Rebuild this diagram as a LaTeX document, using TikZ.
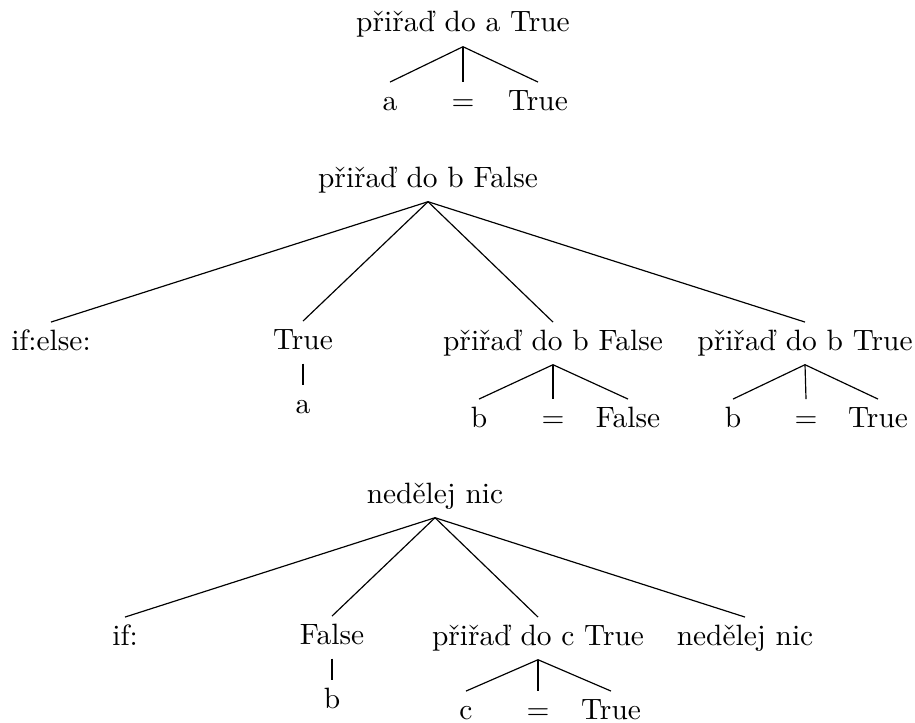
\documentclass[tikz,border=0pt]{standalone}
\usepackage{fontspec}
\begin{document}
\begin{tikzpicture}[x=0.34pt,y=-0.34pt,
  lbl/.style={inner sep=2.8pt, text height=6.5pt, text depth=2pt, anchor=base},
  edge/.style={line width=0.4pt}]
\useasboundingbox (0,0) rectangle (915,722);

% first tree
\node[lbl] (t1) at (463,32) {přiřaď do a True};
\node[lbl] (t1a) at (390,110) {a};
\node[lbl] (t1b) at (463,110) {=};
\node[lbl] (t1c) at (538,110) {True};
\foreach \c in {t1a,t1b,t1c} \draw[edge] (t1.south) -- (\c.north);

% second tree
\node[lbl] (t2) at (428,187) {přiřaď do b False};
\node[lbl] (t2a) at (51,350) {if:else:};
\node[lbl] (t2b) at (303,349) {True};
\node[lbl] (t2c) at (553,350) {přiřaď do b False};
\node[lbl] (t2d) at (805,350) {přiřaď do b True};
\foreach \c in {t2a,t2b,t2c,t2d} \draw[edge] (t2.south) -- (\c.north);
\node[lbl] (t2ba) at (303,413) {a};
\draw[edge] (t2b.south) -- (t2ba.north);
\node[lbl] (t2ca) at (479,427) {b};
\node[lbl] (t2cb) at (553,427) {=};
\node[lbl] (t2cc) at (628,427) {False};
\foreach \c in {t2ca,t2cb,t2cc} \draw[edge] (t2c.south) -- (\c.north);
\node[lbl] (t2da) at (733,427) {b};
\node[lbl] (t2db) at (806,427) {=};
\node[lbl] (t2dc) at (878,427) {True};
\foreach \c in {t2da,t2db,t2dc} \draw[edge] (t2d.south) -- (\c.north);

% third tree
\node[lbl] (t3) at (435,503) {nedělej nic};
\node[lbl] (t3a) at (125,645) {if:};
\node[lbl] (t3b) at (332,644) {False};
\node[lbl] (t3c) at (538,645) {přiřaď do c True};
\node[lbl] (t3d) at (745,645) {nedělej nic};
\foreach \c in {t3a,t3b,t3c,t3d} \draw[edge] (t3.south) -- (\c.north);
\node[lbl] (t3ba) at (332,708) {b};
\draw[edge] (t3b.south) -- (t3ba.north);
\node[lbl] (t3ca) at (466,719) {c};
\node[lbl] (t3cb) at (538,719) {=};
\node[lbl] (t3cc) at (611,719) {True};
\foreach \c in {t3ca,t3cb,t3cc} \draw[edge] (t3c.south) -- (\c.north);
\end{tikzpicture}
\end{document}
